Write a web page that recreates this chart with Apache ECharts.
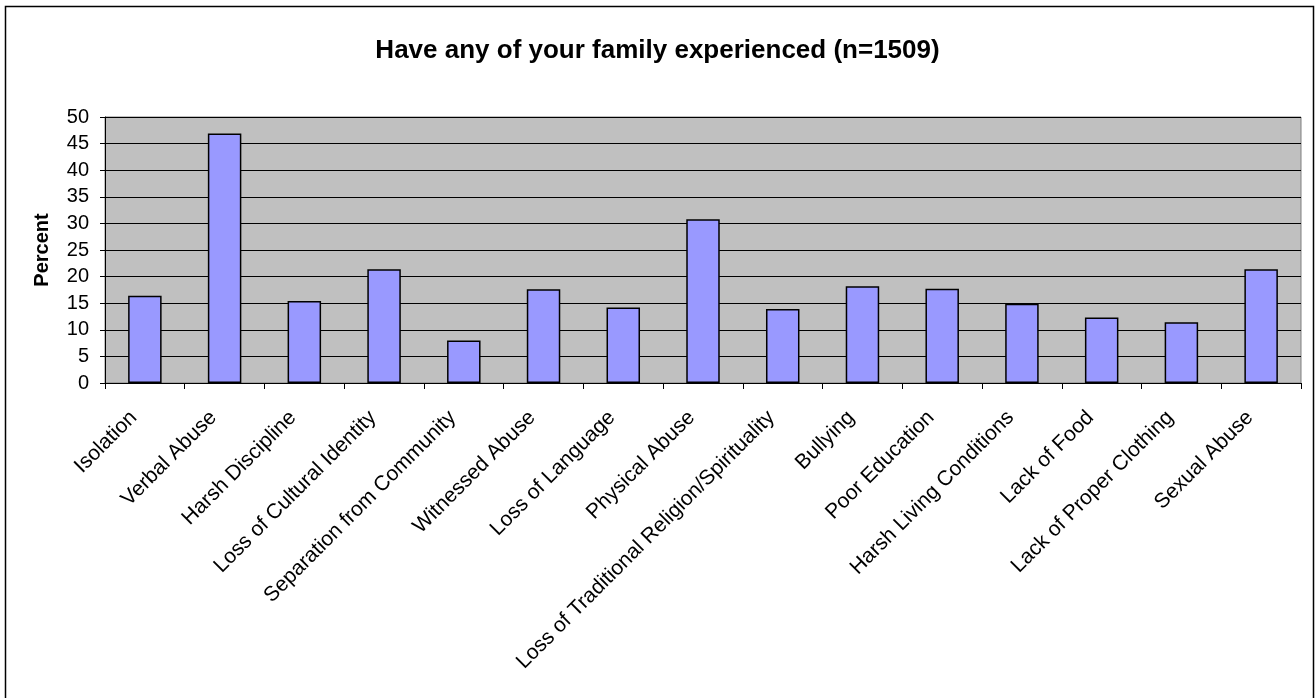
<!DOCTYPE html>
<html>
<head>
<meta charset="utf-8">
<title>Have any of your family experienced</title>
<script src="https://cdn.jsdelivr.net/npm/echarts@6/dist/echarts.min.js"></script>
<style>
  html, body { margin: 0; padding: 0; background: #fff; }
  #chart { width: 1315px; height: 698px; }
</style>
</head>
<body>
<div id="chart"></div>
<script>
// categories along the x axis
var categories = ['Isolation', 'Verbal Abuse', 'Harsh Discipline', 'Loss of Cultural Identity',
    'Separation from Community', 'Witnessed Abuse', 'Loss of Language', 'Physical Abuse',
    'Loss of Traditional Religion/Spirituality', 'Bullying', 'Poor Education',
    'Harsh Living Conditions', 'Lack of Food', 'Lack of Proper Clothing', 'Sexual Abuse'];
// percent values
var percents = [16.4, 46.9, 15.4, 21.4, 8.0, 17.6, 14.2, 30.8, 13.9, 18.2, 17.7, 14.9, 12.3, 11.4, 21.4];

var chart = echarts.init(document.getElementById('chart'));

var option = {
    backgroundColor: '#ffffff',
    animation: false,
    textStyle: { fontFamily: 'Liberation Sans, Arial, sans-serif' },
    title: {
        text: 'Have any of your family experienced (n=1509)',
        left: 'center',
        top: 33,
        textStyle: { fontSize: 26, fontWeight: 'bold', color: '#000' }
    },
    // outer chart frame
    graphic: [{
        type: 'rect',
        shape: { x: 5.5, y: 6.5, width: 1308, height: 720 },
        style: { fill: null, stroke: '#000', lineWidth: 1.5 },
        silent: true
    }],
    grid: {
        left: 105,
        right: 14,
        top: 117,
        bottom: 315,
        show: true,
        backgroundColor: '#C0C0C0',
        borderColor: '#808080',
        borderWidth: 1
    },
    xAxis: {
        type: 'category',
        data: categories,
        axisLine: { lineStyle: { color: '#000', width: 1 } },
        axisTick: { show: true, length: 6, lineStyle: { color: '#000' } },
        axisLabel: {
            interval: 0,
            rotate: 45,
            fontSize: 21,
            color: '#000',
            margin: 20,
            padding: [0, 16, 0, 0]
        }
    },
    yAxis: {
        type: 'value',
        min: 0,
        max: 50,
        interval: 5,
        name: 'Percent',
        nameLocation: 'middle',
        nameGap: 53,
        nameTextStyle: { fontSize: 20, fontWeight: 'bold', color: '#000' },
        axisLine: { show: true, lineStyle: { color: '#000', width: 1 } },
        axisTick: { show: true, length: 5, lineStyle: { color: '#000' } },
        axisLabel: { fontSize: 20, color: '#000', margin: 16 },
        splitLine: { show: true, lineStyle: { color: '#000', width: 1 } }
    },
    series: [{
        type: 'bar',
        data: percents,
        barCategoryGap: '58%',
        itemStyle: {
            color: '#9999FF',
            borderColor: '#000',
            borderWidth: 1.5
        }
    }]
};

chart.setOption(option, true);
</script>
</body>
</html>
